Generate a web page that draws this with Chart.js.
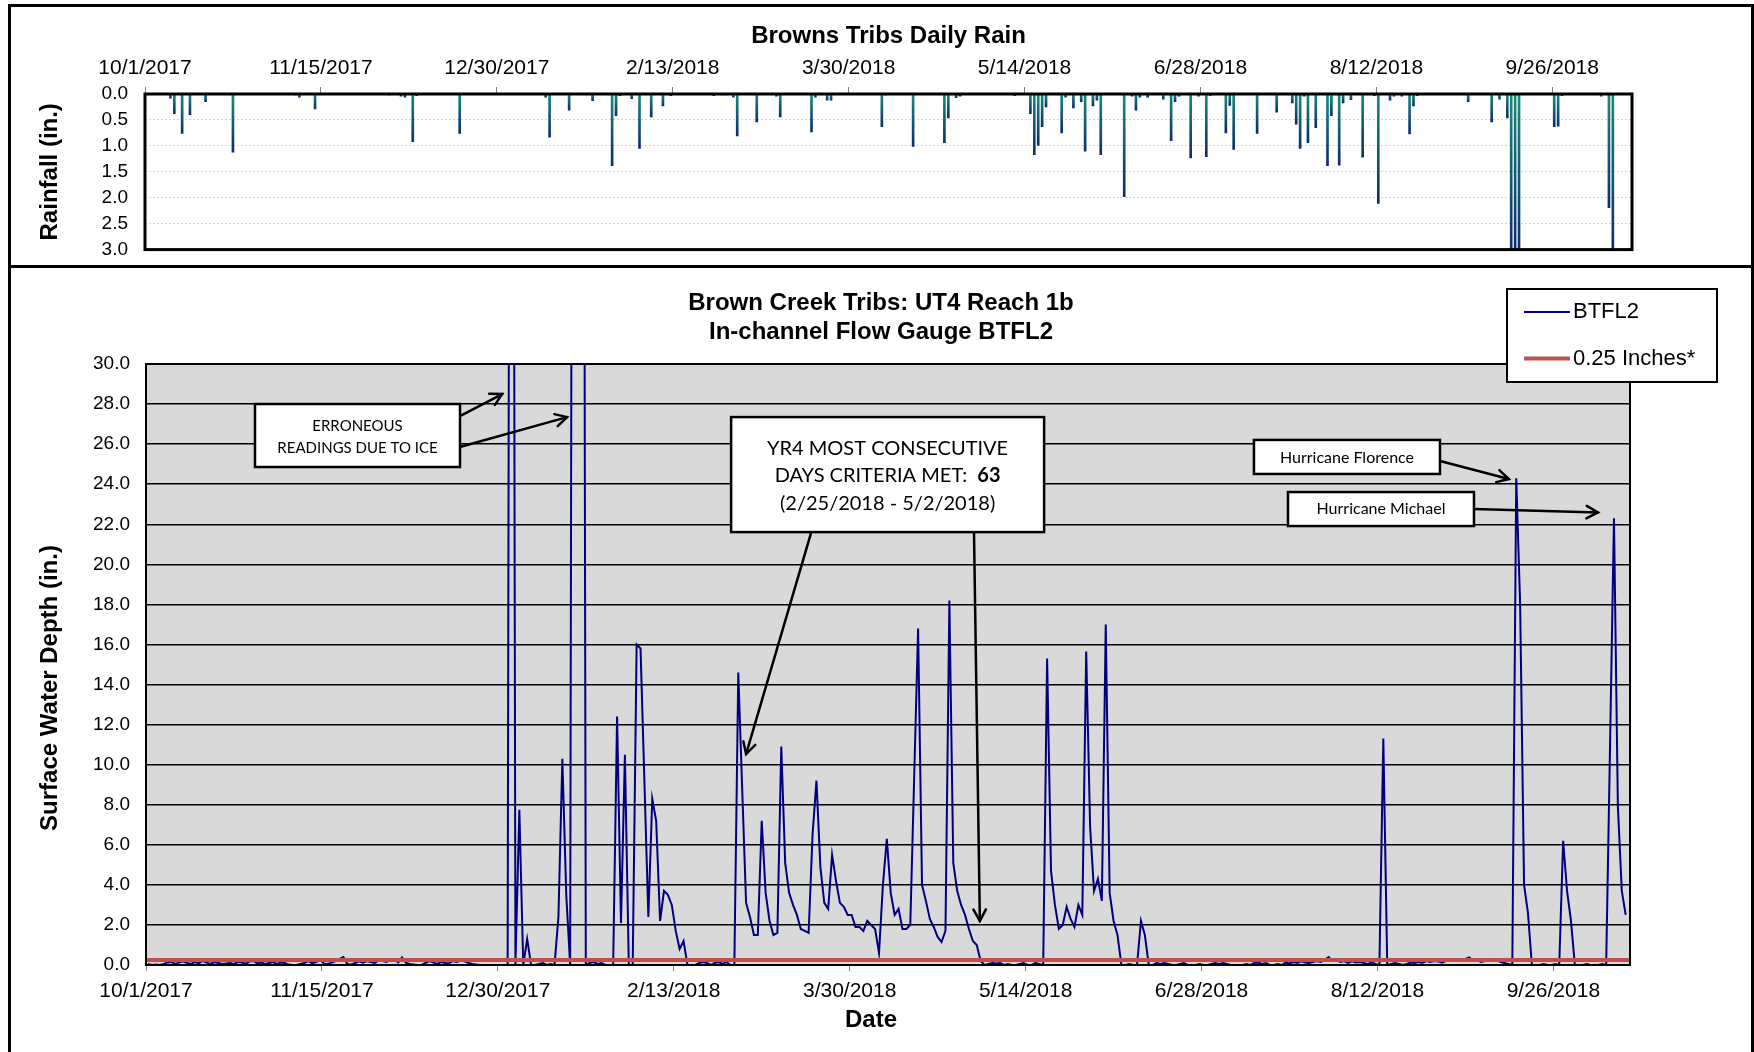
<!DOCTYPE html>
<html>
<head>
<meta charset="utf-8">
<title>Browns Tribs Daily Rain / Brown Creek Tribs: UT4 Reach 1b</title>
<script src="https://cdn.jsdelivr.net/npm/chart.js@4.4.1/dist/chart.umd.min.js"></script>
<style>
  html, body { margin: 0; padding: 0; background: #fff; overflow: hidden; }
  body { width: 1754px; height: 1052px; position: relative; }
  .panel { position: absolute; border: 3px solid #000; box-sizing: border-box; }
  #rainPanel { left: 8px; top: 4px; width: 1746px; height: 264px; }
  #flowPanel { left: 8px; top: 265px; width: 1746px; height: 800px; }
  canvas { position: absolute; left: 0; }
  #rainChart { top: 0; }
  #flowChart { top: 268px; }
</style>
</head>
<body>
<div class="panel" id="rainPanel"></div>
<div class="panel" id="flowPanel"></div>
<canvas id="rainChart" width="1754" height="278"></canvas>
<canvas id="flowChart" width="1754" height="784"></canvas>
<script>
// day 0 = 10/1/2017, one value per day
const startDate = new Date(2017, 9, 1);

// daily rain (in.), only the days with rain
const rainDays = [6, 7, 9, 11, 15, 22, 38, 39, 43, 62,
  65, 66, 68, 69, 80, 102, 103, 108, 114, 119,
  120, 121, 124, 126, 129, 132, 134, 142, 145, 147,
  148, 150, 151, 156, 161, 162, 170, 171, 174, 175,
  180, 188, 189, 196, 204, 205, 207, 208, 222, 226,
  227, 228, 229, 230, 234, 235, 237, 239, 240, 242,
  243, 244, 250, 252, 253, 254, 256, 260, 262, 263,
  264, 267, 269, 271, 272, 276, 277, 278, 284, 289,
  293, 294, 295, 296, 297, 299, 302, 303, 305, 306,
  308, 311, 314, 315, 318, 319, 321, 323, 324, 325,
  338, 344, 346, 348, 349, 350, 351, 360, 361, 362,
  372, 374, 375];
const rainInches = [0.08, 0.38, 0.76, 0.40, 0.15, 1.12, 0.02, 0.06, 0.29, 0.02,
  0.04, 0.06, 0.92, 0.03, 0.76, 0.06, 0.83, 0.31, 0.13, 1.38,
  0.42, 0.03, 0.09, 1.05, 0.44, 0.23, 0.03, 0.01, 0.03, 0.02,
  0.02, 0.06, 0.81, 0.54, 0.04, 0.44, 0.73, 0.06, 0.12, 0.12,
  0.01, 0.63, 0.02, 1.01, 0.94, 0.46, 0.07, 0.04, 0.03, 0.38,
  1.17, 0.99, 0.63, 0.25, 0.75, 0.06, 0.27, 0.15, 1.10, 0.23,
  0.12, 1.17, 1.98, 0.04, 0.31, 0.06, 0.06, 0.10, 0.90, 0.15,
  0.04, 1.23, 0.04, 1.21, 0.03, 0.75, 0.22, 1.07, 0.76, 0.35,
  0.17, 0.58, 1.05, 0.04, 0.94, 0.65, 1.38, 0.42, 1.37, 0.17,
  0.11, 1.22, 0.03, 2.11, 0.12, 0.04, 0.04, 0.77, 0.23, 0.03,
  0.15, 0.54, 0.10, 0.46, 3.4, 3.9, 3.3, 0.63, 0.62, 0.03,
  0.04, 2.19, 3.2];

// BTFL2 daily surface water depth (in.)
const depthInches = [
  0.05, 0, 0.02, 0, 0.05, 0.12, 0.15, 0.05, 0.12, 0.18,
  0.1, 0.05, 0.15, 0.08, 0.2, 0.12, 0.05, 0.15, 0.1, 0.05,
  0.08, 0.1, 0.05, 0.15, 0.12, 0.06, 0.18, 0.2, 0.08, 0.12,
  0.05, 0.1, 0.15, 0.05, 0.12, 0.1, 0.02, 0, 0, 0.05,
  0.1, 0.2, 0.08, 0.15, 0.25, 0.08, 0.05, 0.12, 0.2, 0.3,
  0.4, 0.05, 0.02, 0.1, 0.18, 0.12, 0.2, 0.15, 0.1, 0.22,
  0.2, 0.15, 0.25, 0.3, 0.12, 0.38, 0.1, 0.05, 0.02, 0,
  0, 0.1, 0.2, 0.12, 0.05, 0.15, 0.1, 0.08, 0.2, 0.15,
  0.22, 0.18, 0.1, 0.05, 0.02, 0, 0, 0, 0, 0,
  0, 0, 0, 100, 0, 7.75, 0, 1.3, 0, 0,
  0.05, 0.1, 0, 0.05, 0, 2.4, 10.3, 3.5, 0, 100,
  100, 100, 0, 0.1, 0.15, 0.05, 0.1, 0, 0, 0,
  12.4, 2.1, 10.5, 0, 0, 16.0, 15.8, 9.1, 2.4, 8.3,
  7.2, 2.2, 3.7, 3.5, 3.0, 1.7, 0.8, 1.2, 0, 0,
  0, 0.1, 0.15, 0.1, 0, 0.1, 0.15, 0.05, 0.15, 0,
  0, 14.6, 8.8, 3.1, 2.4, 1.5, 1.5, 7.2, 3.6, 2.2,
  1.5, 1.6, 10.9, 5.1, 3.6, 3.0, 2.5, 1.8, 1.7, 1.6,
  6.5, 9.2, 4.9, 3.1, 2.8, 5.5, 4.2, 3.1, 2.9, 2.5,
  2.5, 1.9, 1.9, 1.7, 2.2, 2.0, 1.8, 0.6, 4.0, 6.3,
  3.6, 2.5, 2.8, 1.8, 1.8, 2.0, 9.4, 16.8, 4.0, 3.2,
  2.3, 1.9, 1.4, 1.15, 1.7, 18.2, 5.1, 3.7, 3.0, 2.5,
  1.8, 1.2, 1.0, 0.2, 0, 0.05, 0.1, 0.08, 0.1, 0,
  0.05, 0, 0, 0.05, 0.1, 0, 0, 0.1, 0.05, 0,
  15.3, 4.7, 3.0, 1.8, 2.0, 2.9, 2.3, 1.9, 3.0, 2.5,
  15.65, 6.9, 3.7, 4.3, 3.2, 17.0, 3.6, 2.2, 1.5, 0,
  0, 0.05, 0, 0, 2.2, 1.5, 0, 0, 0.1, 0.05,
  0.1, 0.05, 0, 0, 0.05, 0.1, 0, 0, 0, 0.05,
  0, 0, 0.05, 0.1, 0.05, 0.1, 0.05, 0, 0, 0,
  0, 0.05, 0, 0.1, 0.12, 0.05, 0.1, 0, 0, 0.05,
  0, 0.12, 0.08, 0.15, 0.1, 0.18, 0.12, 0.1, 0.15, 0.2,
  0.15, 0.25, 0.4, 0.2, 0.25, 0.15, 0.2, 0.1, 0.18, 0.12,
  0.15, 0.1, 0.05, 0.12, 0.05, 0, 11.3, 0, 0.05, 0.1,
  0.05, 0, 0.05, 0.12, 0.1, 0.15, 0.1, 0.2, 0.15, 0.2,
  0.18, 0.12, 0.2, 0.25, 0.3, 0.2, 0.25, 0.3, 0.38, 0.2,
  0.25, 0.15, 0.2, 0.3, 0.2, 0.25, 0.15, 0.1, 0.05, 0,
  24.3, 18.0, 4.0, 2.6, 0, 0, 0, 0.05, 0, 0,
  0.05, 0, 6.2, 3.7, 2.2, 0, 0, 0, 0.05, 0,
  0, 0, 0.05, 0, 11, 22.3, 7.9, 3.7, 2.5
];

const criteriaDepth = 0.25;
const tickStepDays = 45;
const rainAxis = { min: 0, max: 380.4 };
const flowAxis = { min: 0, max: 379.6 };

const sans = '"Liberation Sans", Arial, sans-serif';
const note = 'Lato, "Open Sans", sans-serif';

Chart.defaults.font.family = sans;
Chart.defaults.color = '#000';

function dateLabel(value) {
  const d = new Date(startDate);
  d.setDate(d.getDate() + Math.round(value));
  return (d.getMonth() + 1) + '/' + d.getDate() + '/' + d.getFullYear();
}

// frame round the plot area, optional fill behind it
const plotFrame = {
  id: 'plotFrame',
  beforeDraw(chart, args, opts) {
    if (!opts.fill) return;
    const a = chart.chartArea;
    chart.ctx.save();
    chart.ctx.fillStyle = opts.fill;
    chart.ctx.fillRect(a.left, a.top, a.right - a.left, a.bottom - a.top);
    chart.ctx.restore();
  },
  afterDatasetsDraw(chart, args, opts) {
    const a = chart.chartArea;
    const ctx = chart.ctx;
    ctx.save();
    ctx.strokeStyle = opts.color || '#000';
    ctx.lineWidth = opts.width || 2;
    ctx.strokeRect(a.left, a.top, a.right - a.left, a.bottom - a.top);
    ctx.restore();
  }
};

// plain texts placed on the canvas
const pageText = {
  id: 'pageText',
  afterDraw(chart, args, opts) {
    const ctx = chart.ctx;
    (opts.items || []).forEach(t => {
      ctx.save();
      ctx.font = t.font;
      ctx.fillStyle = '#000';
      ctx.textAlign = 'center';
      ctx.textBaseline = 'middle';
      ctx.translate(t.x, t.y);
      if (t.rotate) ctx.rotate(t.rotate);
      ctx.fillText(t.text, 0, 0);
      ctx.restore();
    });
  }
};

function drawArrow(ctx, x1, y1, x2, y2) {
  const a = Math.atan2(y2 - y1, x2 - x1);
  const len = 13, spread = 0.5;
  ctx.beginPath();
  ctx.moveTo(x1, y1);
  ctx.lineTo(x2, y2);
  ctx.stroke();
  ctx.beginPath();
  ctx.moveTo(x2 - len * Math.cos(a - spread), y2 - len * Math.sin(a - spread));
  ctx.lineTo(x2, y2);
  ctx.lineTo(x2 - len * Math.cos(a + spread), y2 - len * Math.sin(a + spread));
  ctx.stroke();
}

// text boxes and arrows, anchored in data units (day, inches)
const calloutPlugin = {
  id: 'callouts',
  afterDatasetsDraw(chart, args, opts) {
    const ctx = chart.ctx;
    const xs = chart.scales.x, ys = chart.scales.y;
    ctx.save();
    ctx.strokeStyle = '#000';
    ctx.lineWidth = 2.5;
    ctx.lineCap = 'round';
    (opts.arrows || []).forEach(ar => {
      drawArrow(ctx, xs.getPixelForValue(ar.from[0]), ys.getPixelForValue(ar.from[1]),
        xs.getPixelForValue(ar.to[0]), ys.getPixelForValue(ar.to[1]));
    });
    (opts.boxes || []).forEach(b => {
      const cx = xs.getPixelForValue(b.x), cy = ys.getPixelForValue(b.y);
      ctx.fillStyle = '#fff';
      ctx.fillRect(cx - b.w / 2, cy - b.h / 2, b.w, b.h);
      ctx.lineWidth = 2.5;
      ctx.strokeRect(cx - b.w / 2, cy - b.h / 2, b.w, b.h);
      ctx.fillStyle = '#000';
      ctx.textAlign = 'left';
      ctx.textBaseline = 'middle';
      b.lines.forEach((segs, i) => {
        let total = 0;
        const widths = segs.map(s => {
          ctx.font = (s.bold ? 'bold ' : '') + b.size + 'px ' + note;
          const w = ctx.measureText(s.t).width;
          total += w;
          return w;
        });
        let x = cx - total / 2;
        segs.forEach((s, k) => {
          ctx.font = (s.bold ? 'bold ' : '') + b.size + 'px ' + note;
          ctx.fillText(s.t, x, cy + b.dy[i]);
          x += widths[k];
        });
      });
    });
    ctx.restore();
  }
};

// legend box drawn from the datasets
const boxLegend = {
  id: 'boxLegend',
  afterDraw(chart, args, opts) {
    const ctx = chart.ctx;
    const b = opts.box;
    ctx.save();
    ctx.fillStyle = '#fff';
    ctx.fillRect(b.left, b.top, b.width, b.height);
    ctx.strokeStyle = '#000';
    ctx.lineWidth = 2;
    ctx.strokeRect(b.left, b.top, b.width, b.height);
    ctx.font = '22px ' + sans;
    ctx.textAlign = 'left';
    ctx.textBaseline = 'middle';
    chart.data.datasets.forEach((ds, i) => {
      const y = b.top + opts.firstRow + i * opts.rowGap;
      ctx.strokeStyle = ds.borderColor;
      ctx.lineWidth = ds.borderWidth;
      ctx.beginPath();
      ctx.moveTo(b.left + 17, y);
      ctx.lineTo(b.left + 63, y);
      ctx.stroke();
      ctx.fillStyle = '#000';
      ctx.fillText(ds.label, b.left + 66, y);
    });
    ctx.restore();
  }
};

// teal to navy fill down each rain bar
function rainFill(ctx) {
  const fallback = '#145A78';
  const chart = ctx.chart;
  const y = chart.scales && chart.scales.y;
  if (!y || ctx.type !== 'data' || !ctx.parsed || !chart.chartArea) return fallback;
  const top = y.getPixelForValue(0);
  const bottom = y.getPixelForValue(Math.min(ctx.parsed.y, y.max));
  if (!isFinite(top) || !isFinite(bottom)) return fallback;
  const g = chart.ctx.createLinearGradient(0, top, 0, Math.max(bottom, top + 1));
  g.addColorStop(0, '#1B8A7A');
  g.addColorStop(1, '#0C2D6E');
  return g;
}

new Chart(document.getElementById('rainChart'), {
  type: 'bar',
  data: {
    datasets: [{
      label: 'Daily Rain',
      data: rainDays.map((d, i) => ({ x: d + 0.5, y: rainInches[i] })),
      backgroundColor: rainFill,
      borderWidth: 0,
      barThickness: 2
    }]
  },
  options: {
    responsive: false,
    animation: false,
    // the "3.0" label and its padding keep about 28px free under the plot
    layout: { padding: { left: 0, right: 122, top: 0, bottom: 0 } },
    plugins: {
      legend: { display: false },
      tooltip: { enabled: false },
      title: {
        display: true,
        text: 'Browns Tribs Daily Rain',
        fullSize: false,
        font: { size: 24, weight: 'bold' },
        color: '#000',
        padding: { top: 22, bottom: 0 }
      },
      plotFrame: { color: '#000', width: 3 }
    },
    scales: {
      x: {
        type: 'linear',
        position: 'top',
        min: rainAxis.min,
        max: rainAxis.max,
        bounds: 'data',
        offset: false,
        ticks: {
          stepSize: tickStepDays,
          includeBounds: false,
          autoSkip: false,
          maxRotation: 0,
          callback: dateLabel,
          font: { size: 21 },
          padding: 6
        },
        grid: { offset: false, drawOnChartArea: false, tickLength: 7, tickColor: '#808080' },
        border: { display: false },
        afterFit: s => { s.height = 43.2; }
      },
      y: {
        reverse: true,
        min: 0,
        max: 3,
        ticks: {
          stepSize: 0.5,
          autoSkip: false,
          callback: v => v.toFixed(1),
          font: { size: 19 },
          padding: 17
        },
        grid: { color: '#D4D4D4', lineWidth: 1, drawTicks: false },
        border: { display: false, dash: [2, 2] },
        title: {
          display: true,
          text: 'Rainfall (in.)',
          font: { size: 24, weight: 'bold' },
          padding: { top: 35.6, bottom: 0 }
        },
        afterFit: s => { s.width = 145; }
      }
    }
  },
  plugins: [plotFrame]
});

new Chart(document.getElementById('flowChart'), {
  type: 'line',
  data: {
    datasets: [{
      label: 'BTFL2',
      data: depthInches.map((v, i) => ({ x: i + 0.5, y: v })),
      borderColor: '#000080',
      borderWidth: 2,
      pointRadius: 0,
      tension: 0
    }, {
      label: '0.25 Inches*',
      data: [{ x: flowAxis.min, y: criteriaDepth }, { x: flowAxis.max, y: criteriaDepth }],
      borderColor: '#C0504D',
      borderWidth: 4,
      pointRadius: 0,
      order: -1
    }]
  },
  options: {
    responsive: false,
    animation: false,
    layout: { padding: { left: 0, right: 124, top: 96, bottom: 27 } },
    plugins: {
      legend: { display: false },
      tooltip: { enabled: false },
      title: { display: false },
      plotFrame: { color: '#000', width: 2, fill: '#D9D9D9' },
      callouts: {
        boxes: [
          { x: 54.1, y: 26.43, w: 205, h: 63, size: 15, dy: [-9.5, 12.5],
            lines: [[{ t: 'ERRONEOUS' }], [{ t: 'READINGS DUE TO ICE' }]] },
          { x: 189.7, y: 24.48, w: 313, h: 115, size: 20, dy: [-26, 0.5, 28.5],
            lines: [[{ t: 'YR4 MOST CONSECUTIVE' }],
              [{ t: 'DAYS CRITERIA MET:  ' }, { t: '63', bold: true }],
              [{ t: '(2/25/2018 - 5/2/2018)' }]] },
          { x: 307.2, y: 25.36, w: 186, h: 34, size: 16, dy: [1],
            lines: [[{ t: 'Hurricane Florence' }]] },
          { x: 315.9, y: 22.76, w: 186, h: 34, size: 16, dy: [0],
            lines: [[{ t: 'Hurricane Michael' }]] }
        ],
        arrows: [
          { from: [80.3, 27.40], to: [91.1, 28.50] },
          { from: [80.3, 25.86], to: [107.7, 27.35] },
          { from: [170.1, 21.56], to: [153.5, 10.53] },
          { from: [211.8, 21.56], to: [213.3, 2.20] },
          { from: [331.0, 25.16], to: [348.6, 24.26] },
          { from: [339.7, 22.76], to: [371.4, 22.59] }
        ]
      },
      boxLegend: { box: { left: 1507, top: 21, width: 210, height: 93 }, firstRow: 23, rowGap: 46.5 },
      pageText: {
        items: [
          { text: 'Brown Creek Tribs: UT4 Reach 1b', x: 881, y: 35, font: 'bold 24px ' + sans },
          { text: 'In-channel Flow Gauge BTFL2', x: 881, y: 64, font: 'bold 24px ' + sans },
          { text: 'Date', x: 871, y: 752, font: 'bold 24px ' + sans },
          { text: 'Surface Water Depth (in.)', x: 50, y: 420, rotate: -Math.PI / 2, font: 'bold 24px ' + sans }
        ]
      }
    },
    scales: {
      x: {
        type: 'linear',
        min: flowAxis.min,
        max: flowAxis.max,
        bounds: 'data',
        ticks: {
          stepSize: tickStepDays,
          includeBounds: false,
          autoSkip: false,
          maxRotation: 0,
          callback: dateLabel,
          font: { size: 21 },
          padding: 7.4
        },
        grid: { drawOnChartArea: false, tickLength: 6, tickColor: '#808080' },
        border: { display: false },
        afterFit: s => { s.height = 60; }
      },
      y: {
        min: 0,
        max: 30,
        ticks: {
          stepSize: 2,
          autoSkip: false,
          callback: v => v.toFixed(1),
          font: { size: 19 },
          padding: 16
        },
        grid: { color: '#000', lineWidth: 1.5, drawTicks: false },
        border: { display: false },
        afterFit: s => { s.width = 146; }
      }
    }
  },
  plugins: [plotFrame, calloutPlugin, boxLegend, pageText]
});
</script>
</body>
</html>
